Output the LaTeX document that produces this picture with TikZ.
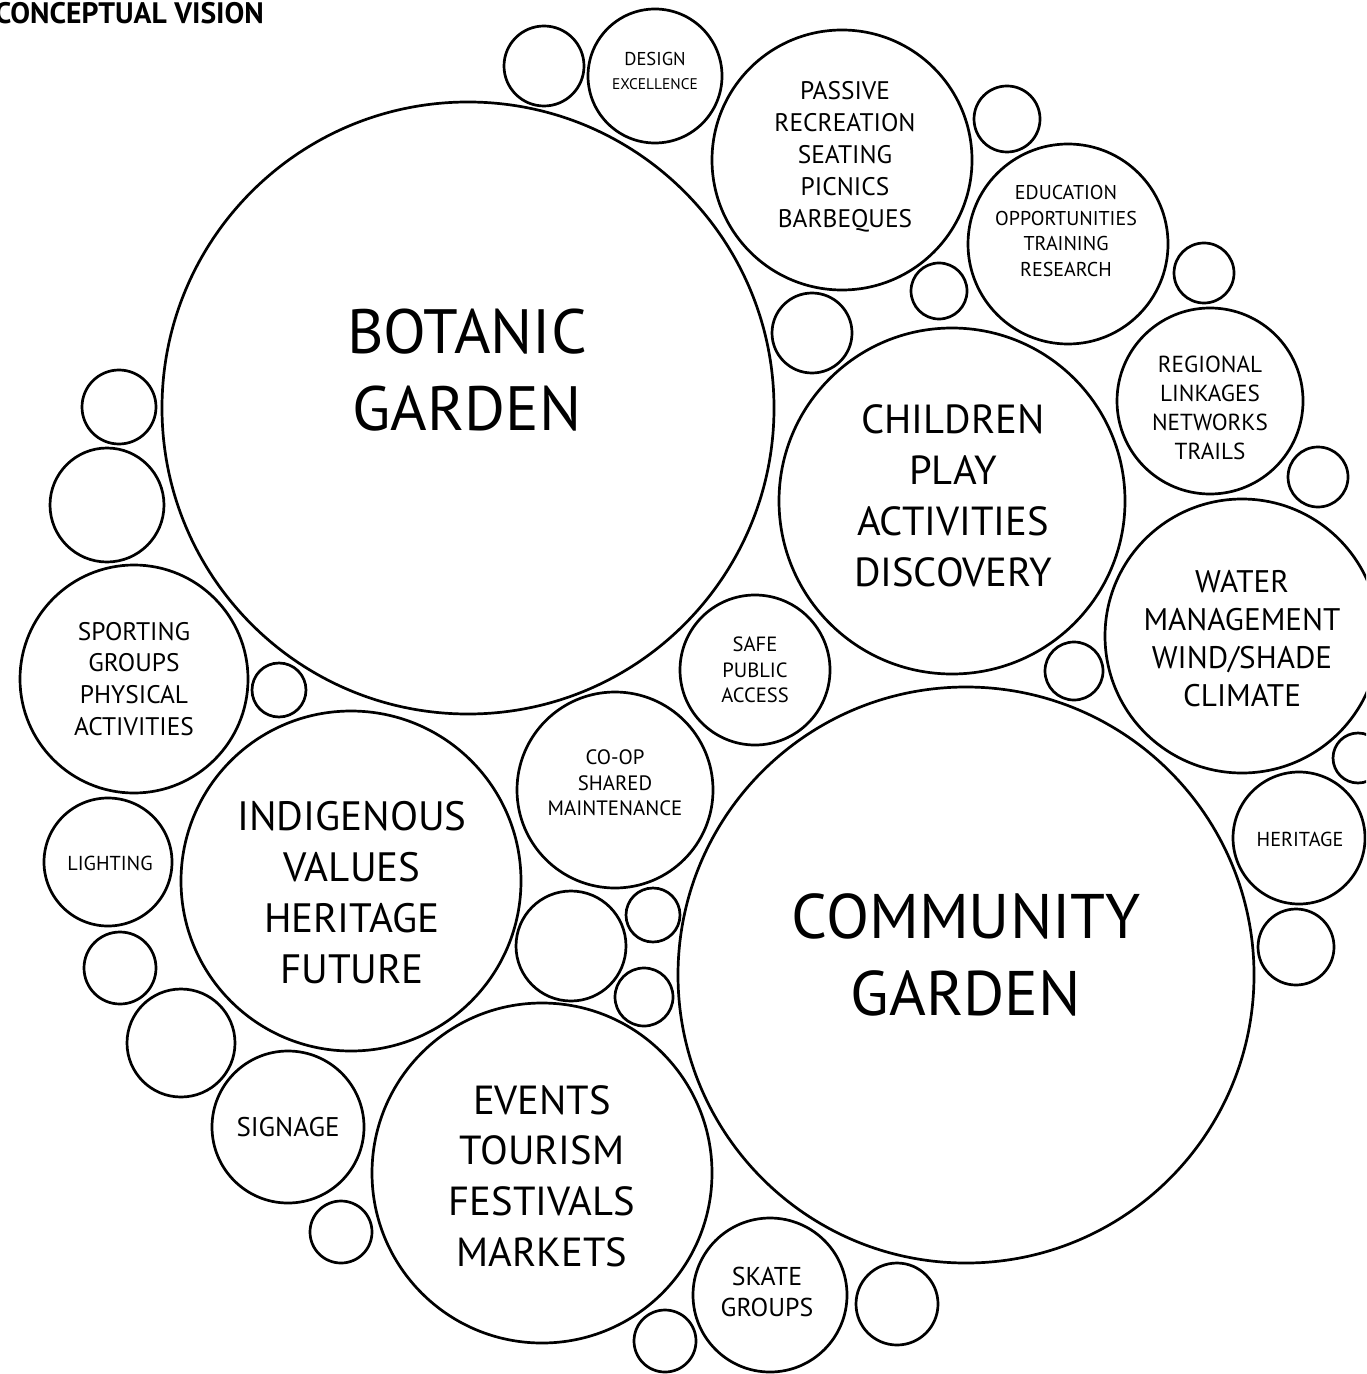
\documentclass[tikz,border=0pt]{standalone}
\usepackage{fontspec}
\setmainfont{PT Sans}

\begin{document}
\begin{tikzpicture}[x=0.5pt,y=-0.5pt,
  bubble/.style={circle,draw,line width=1.35pt,inner sep=0pt,minimum size=#1pt},
  txt/.style 2 args={align=center,inner sep=0pt,font=\fontsize{#1}{#2}\selectfont}]
\clip (0,0) rectangle (1366,1374);
\node[anchor=base east,font=\bfseries\fontsize{14.8}{16}\selectfont] (title) at (271,24) {CONCEPTUAL VISION};
% main bubbles
\node[bubble=306] (botanic) at (468,408) {};
\node[bubble=288] (community) at (966,975) {};
\node[bubble=173] (children) at (952,501) {};
\node[bubble=170] (indigenous) at (351,881) {};
\node[bubble=170] (events) at (542,1173) {};
\node[bubble=130] (passive) at (842,160) {};
\node[bubble=137] (water) at (1242,636) {};
\node[bubble=114] (sporting) at (134,679) {};
\node[bubble=100] (education) at (1068,244) {};
\node[bubble=93] (regional) at (1210,401) {};
\node[bubble=98] (coop) at (615,790) {};
\node[bubble=75] (safe) at (755,670) {};
\node[bubble=67] (design) at (655,76) {};
\node[bubble=76] (signage) at (288,1127) {};
\node[bubble=77] (skate) at (770,1295) {};
\node[bubble=64] (lighting) at (108,862) {};
\node[bubble=66] (heritage) at (1299,838) {};
% empty bubbles
\foreach \cx/\cy/\r [count=\i] in {544/66/40, 1007/119/33, 939/291/28, 812/333/40,
  1204/273/30, 1318/477/30, 1074/671/29, 1358/758/25, 1296/947/38, 897/1304/41,
  665/1341/31, 341/1232/31, 181/1043/54, 120/968/36, 107/505/57, 119/407/37,
  279/690/27, 571/946/55, 653/915/27, 644/997/29}
  \node[bubble=\r] (blank\i) at (\cx,\cy) {};
% labels
\node[txt={31.3}{38.5}] (botaniclbl) at (467,370) {BOTANIC\\GARDEN};
\node[txt={31.5}{38.7}] (communitylbl) at (966,955) {COMMUNITY\\GARDEN};
\node[txt={20.3}{25.5}] (childrenlbl) at (953,496) {CHILDREN\\PLAY\\ACTIVITIES\\DISCOVERY};
\node[txt={20.5}{25.5}] (indigenouslbl) at (352,893) {INDIGENOUS\\VALUES\\HERITAGE\\FUTURE};
\node[txt={20.3}{25.4}] (eventslbl) at (542,1176) {EVENTS\\TOURISM\\FESTIVALS\\MARKETS};
\node[txt={15.6}{19}] (waterlbl) at (1242,639) {WATER\\MANAGEMENT\\WIND/SHADE\\CLIMATE};
\node[txt={12.7}{16}] (passivelbl) at (845,157) {PASSIVE\\RECREATION\\SEATING\\PICNICS\\BARBEQUES};
\node[txt={12.7}{15.9}] (sportinglbl) at (134,679) {SPORTING\\GROUPS\\PHYSICAL\\ACTIVITIES};
\node[txt={10}{12.85}] (educationlbl) at (1066,231) {EDUCATION\\OPPORTUNITIES\\TRAINING\\RESEARCH};
\node[txt={11.6}{14.5}] (regionallbl) at (1210,408) {REGIONAL\\LINKAGES\\NETWORKS\\TRAILS};
\node[txt={10.3}{12.7}] (safelbl) at (755,670) {SAFE\\PUBLIC\\ACCESS};
\node[txt={10.4}{12.7}] (cooplbl) at (615,783) {CO-OP\\SHARED\\MAINTENANCE};
\node[txt={12.9}{15.5}] (skatelbl) at (767,1292) {SKATE\\GROUPS};
\node[txt={13.5}{15}] (signagelbl) at (288,1127) {SIGNAGE};
\node[txt={10.1}{12}] (lightinglbl) at (110,863) {LIGHTING};
\node[txt={10.1}{12}] (heritagelbl) at (1300,839) {HERITAGE};
\node[txt={9.3}{12}] (designlbl) at (655,71) {DESIGN\\{\fontsize{7.7}{9}\selectfont EXCELLENCE}};
\end{tikzpicture}
\end{document}
